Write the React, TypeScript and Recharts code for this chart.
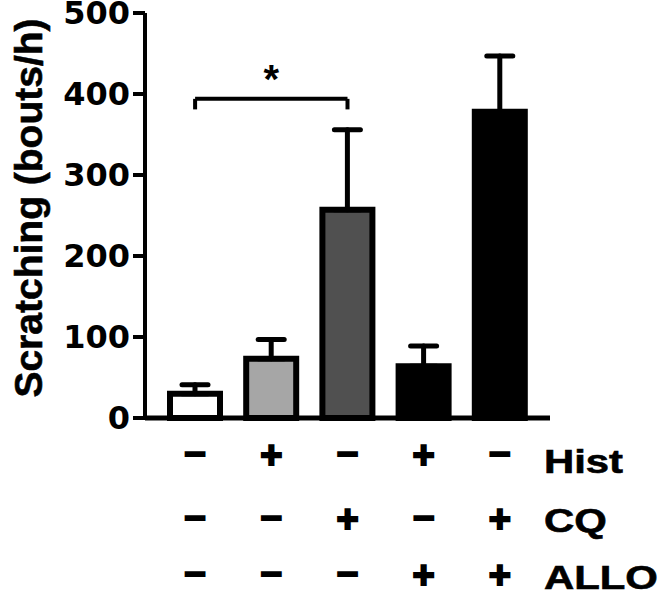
import { Bar, BarChart, Cell, ErrorBar, ReferenceDot, ReferenceLine, XAxis, YAxis } from "recharts";

// groups along the x axis
const groups = ["g1", "g2", "g3", "g4", "g5"];
// scratching bouts per hour (mean) and SEM
const means = [30, 73, 257, 64, 378];
const sems = [11, 24, 99, 25, 69];
const fills = ["#ffffff", "#a6a6a6", "#505050", "#000000", "#000000"];

// treatment table below the bars
const treatments = ["Hist", "CQ", "ALLO"];
const histSigns = ["–", "+", "–", "+", "–"];
const cqSigns = ["–", "–", "+", "–", "+"];
const alloSigns = ["–", "–", "–", "+", "+"];

const yTicks = [0, 100, 200, 300, 400, 500];
const yLabel = "Scratching (bouts/h)";

// significance bracket between groups 1 and 3
const bracketFrom = "g1";
const bracketTo = "g3";
const bracketTop = 394;
const bracketEnd = 381;
const starGroup = "g2";
const starY = 430;

const FONT = "'Liberation Sans', Arial, Helvetica, sans-serif";

const data = groups.map((g, i) => ({
  group: g,
  mean: means[i],
  err: [0, sems[i]],
}));

const signRows = [histSigns, cqSigns, alloSigns];
// centre of each sign row, below the x axis line
const rowCenters = [37, 101, 157];
const labelBaselines = [55, 114, 171];

function TreatmentTick(props: any) {
  const { x, y, index } = props;
  return (
    <g>
      {signRows.map((row, r) => {
        const s = row[index];
        const plus = s === "+";
        return (
          <text
            key={r}
            x={x}
            y={y + rowCenters[r] + (plus ? 13 : 10)}
            textAnchor="middle"
            fontSize={38}
            fontWeight="bold"
            fontFamily={FONT}
            fill="#000"
            stroke="#000"
            strokeWidth={2}
          >
            {s}
          </text>
        );
      })}
      {index === groups.length - 1 &&
        treatments.map((t, r) => (
          <text
            key={t}
            transform={`translate(${x + 44},${y + labelBaselines[r]}) scale(1.25,1)`}
            x={0}
            y={0}
            textAnchor="start"
            fontSize={33.5}
            fontWeight="bold"
            fontFamily={FONT}
            fill="#000"
            stroke="#000"
            strokeWidth={0.6}
          >
            {t}
          </text>
        ))}
    </g>
  );
}

export default function App() {
  return (
    <div style={{ position: "absolute", left: 0, top: 0, background: "#fff" }}>
      <BarChart
        width={660}
        height={597}
        data={data}
        margin={{ top: 13, right: 110, bottom: 0, left: 0 }}
        barSize={50}
      >
        <XAxis
          dataKey="group"
          height={179}
          interval={0}
          tickLine={false}
          tickSize={0}
          tickMargin={0}
          axisLine={{ stroke: "#000", strokeWidth: 5 }}
          padding={{ left: 12, right: 12 }}
          tick={<TreatmentTick />}
        />
        <YAxis
          width={145}
          domain={[0, 500]}
          ticks={yTicks}
          interval={0}
          tickSize={12}
          tickMargin={3}
          axisLine={{ stroke: "#000", strokeWidth: 4 }}
          tickLine={{ stroke: "#000", strokeWidth: 4 }}
          tick={{
            fill: "#000",
            fontSize: 32,
            fontWeight: "bold",
            fontFamily: "'DejaVu Sans', 'Liberation Sans', sans-serif",
          }}
          label={{
            content: () => (
              <text
                x={28}
                y={208}
                transform="rotate(-90, 28, 208)"
                textAnchor="middle"
                dominantBaseline="central"
                fontSize={39}
                fontWeight="bold"
                fontFamily={FONT}
                fill="#000"
                stroke="#000"
                strokeWidth={0.6}
              >
                {yLabel}
              </text>
            ),
          }}
        />
        <Bar dataKey="mean" stroke="#000" strokeWidth={6} isAnimationActive={false}>
          {data.map((d, i) => (
            <Cell key={d.group} fill={fills[i]} />
          ))}
          <ErrorBar
            dataKey="err"
            direction="y"
            width={13}
            stroke="#000"
            strokeWidth={5}
            strokeLinecap="round"
            isAnimationActive={false}
          />
        </Bar>
        <ReferenceLine
          segment={[
            { x: bracketFrom, y: bracketTop },
            { x: bracketTo, y: bracketTop },
          ]}
          stroke="#000"
          strokeWidth={4}
        />
        <ReferenceLine
          segment={[
            { x: bracketFrom, y: bracketTop },
            { x: bracketFrom, y: bracketEnd },
          ]}
          stroke="#000"
          strokeWidth={4}
        />
        <ReferenceLine
          segment={[
            { x: bracketTo, y: bracketTop },
            { x: bracketTo, y: bracketEnd },
          ]}
          stroke="#000"
          strokeWidth={4}
        />
        <ReferenceDot
          x={starGroup}
          y={starY}
          r={0}
          shape={(p: any) => (
            <text
              x={p.cx}
              y={p.cy + 23}
              textAnchor="middle"
              fontSize={40}
              fontWeight="bold"
              fontFamily={FONT}
              fill="#000"
            >
              *
            </text>
          )}
        />
      </BarChart>
    </div>
  );
}
